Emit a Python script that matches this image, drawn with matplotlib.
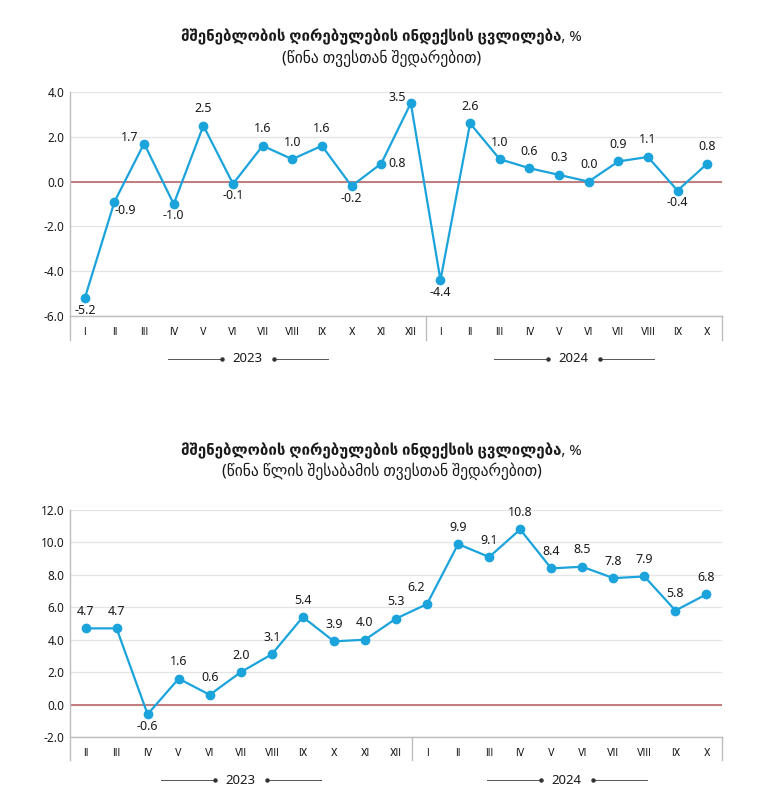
import matplotlib
matplotlib.use("Agg")
import matplotlib.pyplot as plt
import matplotlib.transforms as mtrans
from matplotlib.lines import Line2D

plt.rcParams['font.family'] = ['Noto Sans', 'DejaVu Sans']

# ---------------- data ----------------
title_main = "მშენებლობის ღირებულების ინდექსის ცვლილება, %"
sub_top = "(წინა თვესთან შედარებით)"
sub_bot = "(წინა წლის შესაბამის თვესთან შედარებით)"

months_2023_top = ["I", "II", "III", "IV", "V", "VI", "VII", "VIII", "IX", "X", "XI", "XII"]
months_2024_top = ["I", "II", "III", "IV", "V", "VI", "VII", "VIII", "IX", "X"]
values_2023_top = [-5.2, -0.9, 1.7, -1.0, 2.5, -0.1, 1.6, 1.0, 1.6, -0.2, 0.8, 3.5]
values_2024_top = [-4.4, 2.6, 1.0, 0.6, 0.3, 0.0, 0.9, 1.1, -0.4, 0.8]

months_2023_bot = ["II", "III", "IV", "V", "VI", "VII", "VIII", "IX", "X", "XI", "XII"]
months_2024_bot = ["I", "II", "III", "IV", "V", "VI", "VII", "VIII", "IX", "X"]
values_2023_bot = [4.7, 4.7, -0.6, 1.6, 0.6, 2.0, 3.1, 5.4, 3.9, 4.0, 5.3]
values_2024_bot = [6.2, 9.9, 9.1, 10.8, 8.4, 8.5, 7.8, 7.9, 5.8, 6.8]

years = ["2023", "2024"]

# label placement styles (pixel offsets)
pos_top = ['b', 'br', 'la', 'b', 'a', 'b', 'a', 'a', 'a', 'b', 'r', 'la',
           'b', 'a', 'a', 'a', 'a', 'a', 'a', 'a', 'b', 'a']
pos_bot = ['a', 'a', 'b', 'a', 'a', 'a', 'a', 'a', 'a', 'a', 'a',
           'lu', 'a', 'a', 'a', 'a', 'a', 'a', 'a', 'a', 'a']
offsets = {'a': (0, 17), 'b': (0, -12), 'br': (11, -9), 'la': (-14, 6),
           'r': (16, 0), 'lu': (-11, 17)}

LINE_C = '#1ba3dc'
ZERO_C = '#c27c7c'
GRID_C = '#e4e4e4'
AX_C = '#bdbdbd'
TXT_C = '#1a1a1a'

W, H = 763, 806
fig = plt.figure(figsize=(W / 100, H / 100), dpi=100)


def px_axes(left, top, right, bottom):
    return fig.add_axes([left / W, 1 - bottom / H, (right - left) / W, (bottom - top) / H])


def draw_panel(ax, months_a, months_b, vals_a, vals_b, ylim, yticks, pos, band_px):
    labels = months_a + months_b
    vals = vals_a + vals_b
    n = len(vals)
    xs = list(range(n))
    ax.set_xlim(-0.5, n - 0.5)
    ax.set_ylim(*ylim)
    ax.set_yticks(yticks)
    ax.set_yticklabels([f"{t:.1f}" for t in yticks], fontsize=8.5, color=TXT_C)
    ax.set_xticks(xs)
    ax.set_xticklabels(labels, fontsize=7.5, color=TXT_C, family='Roboto')
    ax.tick_params(axis='x', length=0, pad=8)
    ax.tick_params(axis='y', length=0, pad=4)
    for s in ['top', 'right', 'left']:
        ax.spines[s].set_visible(False)
    ax.spines['bottom'].set_color(AX_C)
    ax.spines['bottom'].set_linewidth(1.0)
    ax.grid(axis='y', color=GRID_C, linewidth=0.9)
    ax.set_axisbelow(True)
    ax.axhline(0, color=ZERO_C, linewidth=1.4, zorder=2)
    ax.plot(xs, vals, color=LINE_C, linewidth=1.6, marker='o', markersize=6,
            zorder=3, clip_on=False)
    for x, v, p in zip(xs, vals, pos):
        dx, dy = offsets[p]
        ax.annotate(f"{v:.1f}", (x, v), xytext=(dx * 0.72, dy * 0.72),
                    textcoords='offset points', ha='center', va='center',
                    fontsize=9, color=TXT_C)
    # category band separators
    trans = mtrans.blended_transform_factory(ax.transData, ax.transAxes)
    axh_px = ax.get_position().height * H
    frac = band_px / axh_px
    for xsep in [-0.5, len(vals_a) - 0.5, n - 0.5]:
        ax.plot([xsep, xsep], [0 if xsep != -0.5 else 1, -frac], transform=trans,
                color=AX_C, linewidth=1.0, clip_on=False)
    # year labels
    yr_y = -43 / axh_px
    centers = [(len(vals_a) - 1) / 2, len(vals_a) + (len(vals_b) - 1) / 2]
    inv = fig.transFigure.inverted()
    for c, yr in zip(centers, years):
        ax.text(c, yr_y, yr, transform=trans, ha='center', va='center',
                fontsize=9.5, color=TXT_C)
        for sgn in (-1, 1):
            t_in = mtrans.offset_copy(trans, fig=fig, x=sgn * 26, y=0, units='dots')
            t_out = mtrans.offset_copy(trans, fig=fig, x=sgn * 80, y=0, units='dots')
            a = inv.transform(t_in.transform((c, yr_y)))
            b = inv.transform(t_out.transform((c, yr_y)))
            fig.add_artist(Line2D([a[0], b[0]], [a[1], b[1]], color='#555555',
                                  linewidth=0.7))
            fig.add_artist(Line2D([a[0]], [a[1]], marker='o', markersize=2.2,
                                  color='#333333', linestyle='none'))


ax1 = px_axes(70, 92, 722, 316)
draw_panel(ax1, months_2023_top, months_2024_top, values_2023_top, values_2024_top,
           (-6, 4), [-6, -4, -2, 0, 2, 4], pos_top, 24)
fig.text(0.5, 1 - 37 / H, title_main, ha='center', va='center', fontsize=10.8,
         fontweight='bold', color=TXT_C)
fig.text(0.5, 1 - 58 / H, sub_top, ha='center', va='center', fontsize=11.2, color=TXT_C)

ax2 = px_axes(70, 510, 722, 737)
draw_panel(ax2, months_2023_bot, months_2024_bot, values_2023_bot, values_2024_bot,
           (-2, 12), [-2, 0, 2, 4, 6, 8, 10, 12], pos_bot, 23)
fig.text(0.5, 1 - 451 / H, title_main, ha='center', va='center', fontsize=10.8,
         fontweight='bold', color=TXT_C)
fig.text(0.5, 1 - 471 / H, sub_bot, ha='center', va='center', fontsize=11.2, color=TXT_C)

fig.savefig("out.png", dpi=100, facecolor='white')
